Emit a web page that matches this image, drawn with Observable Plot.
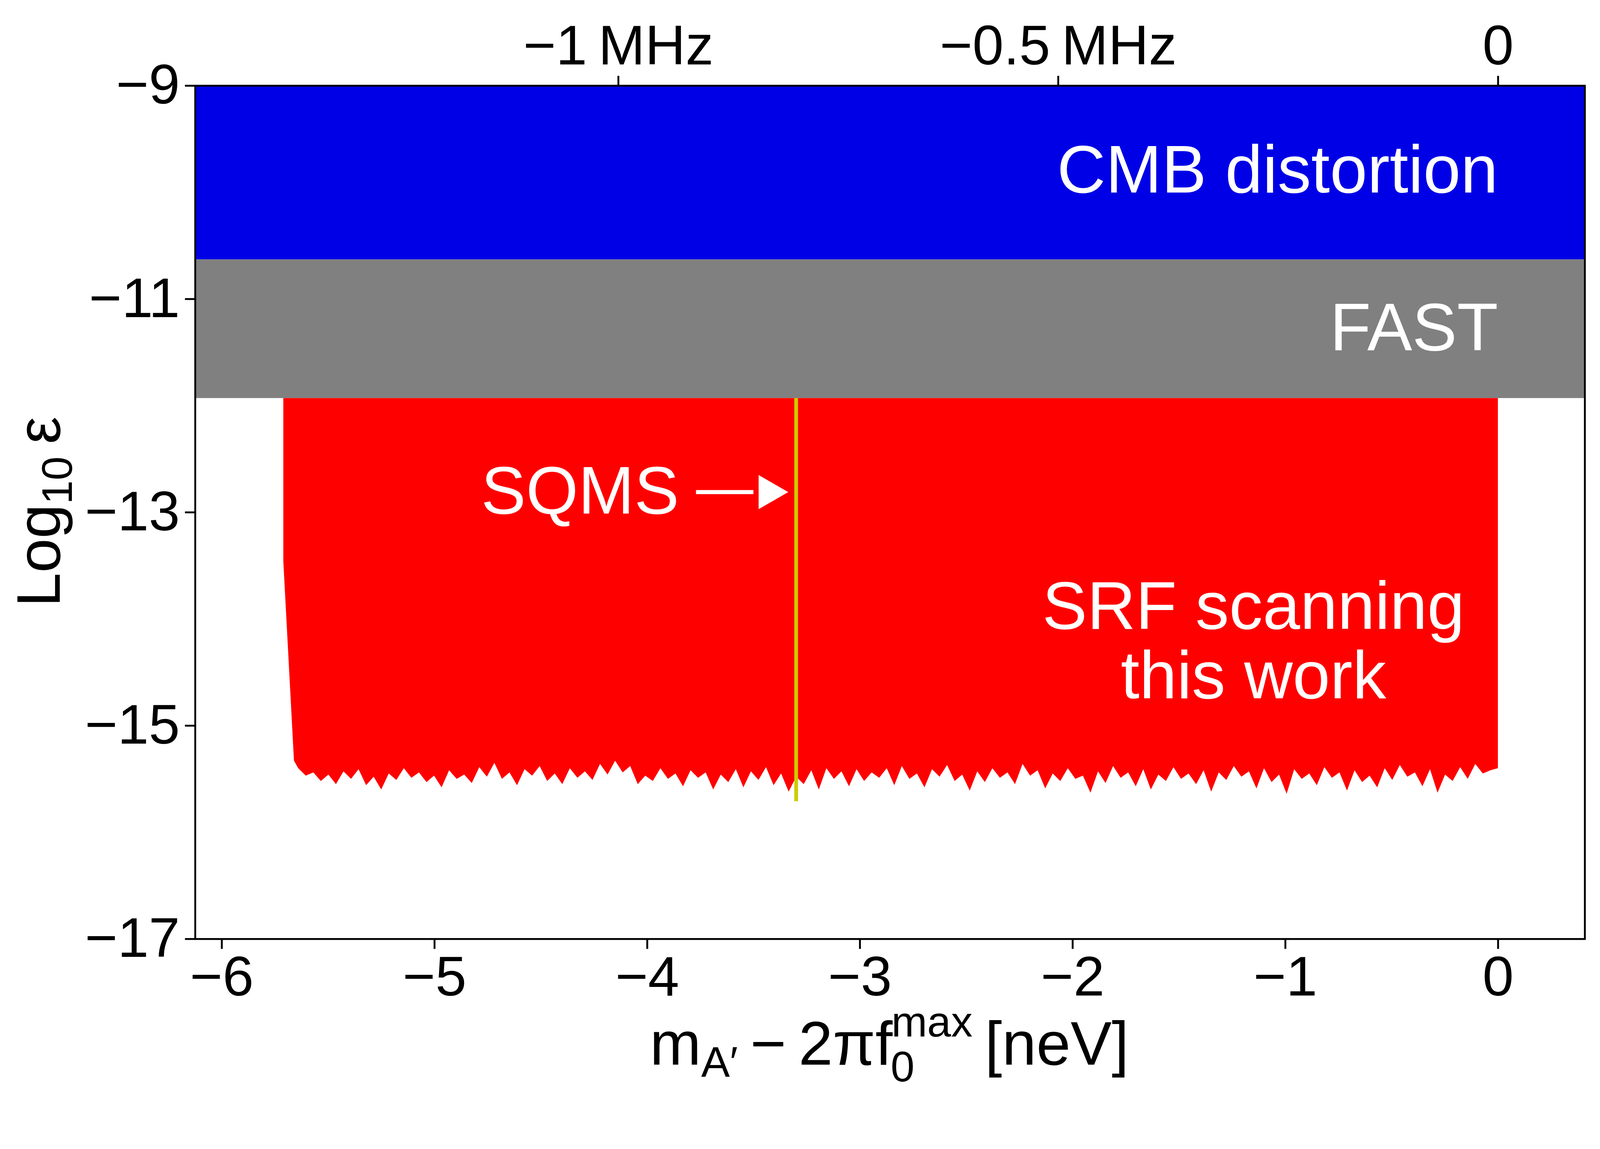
<!DOCTYPE html>
<html><head><meta charset="utf-8">
<script src="https://cdn.jsdelivr.net/npm/d3@7"></script>
<script src="https://cdn.jsdelivr.net/npm/@observablehq/plot@0.6"></script>
<style>body{margin:0;background:#fff}</style>
</head><body><div id="c"></div>
<script>
// bands (Log10 epsilon)
const cmb = {y1: -10.63, y2: -9};
const fast = {y1: -11.93, y2: -10.63};
// SRF scanning: edge start and noisy floor
const srfTop = -11.93;
const srfLeft = [[-5.71, -13.46], [-5.66, -15.33]];
const floorVals = [-15.40,-15.47,-15.44,-15.52,-15.46,-15.55,-15.43,-15.50,-15.41,-15.56,-15.48,-15.60,-15.45,-15.51,-15.40,-15.49,-15.44,-15.53,-15.47,-15.58,
-15.42,-15.50,-15.46,-15.54,-15.39,-15.48,-15.35,-15.50,-15.44,-15.56,-15.41,-15.47,-15.38,-15.52,-15.45,-15.55,-15.40,-15.49,-15.43,-15.51,
-15.36,-15.46,-15.33,-15.44,-15.38,-15.55,-15.47,-15.52,-15.40,-15.50,-15.45,-15.57,-15.42,-15.49,-15.44,-15.60,-15.46,-15.53,-15.41,-15.58,
-15.43,-15.51,-15.39,-15.56,-15.45,-15.62,-15.48,-15.55,-15.42,-15.60,-15.40,-15.50,-15.43,-15.57,-15.41,-15.52,-15.44,-15.49,-15.40,-15.56,
-15.38,-15.50,-15.45,-15.58,-15.41,-15.48,-15.37,-15.52,-15.46,-15.61,-15.43,-15.53,-15.40,-15.49,-15.44,-15.55,-15.36,-15.47,-15.42,-15.59,
-15.45,-15.52,-15.40,-15.50,-15.47,-15.63,-15.43,-15.54,-15.38,-15.49,-15.44,-15.57,-15.41,-15.60,-15.46,-15.52,-15.39,-15.50,-15.45,-15.55,
-15.42,-15.62,-15.44,-15.51,-15.38,-15.48,-15.43,-15.59,-15.40,-15.53,-15.46,-15.64,-15.41,-15.50,-15.45,-15.56,-15.39,-15.49,-15.44,-15.61,
-15.42,-15.53,-15.47,-15.58,-15.40,-15.51,-15.37,-15.48,-15.44,-15.57,-15.41,-15.63,-15.46,-15.52,-15.39,-15.50,-15.36,-15.45,-15.42,-15.40];
const floorX0 = -5.64, floorX1 = 0;
const sqms = {x: -3.30, y1: -15.71, y2: -11.93};
const xTicks = [-6,-5,-4,-3,-2,-1,0];
const yTicks = [-17,-15,-13,-11,-9];
const mhzTicks = [-1,-0.5,0];
const mhzLabels = ["\u22121\u2009MHz","\u22120.5\u2009MHz","0"];
const neVperMHz = 4.1357;

const n = floorVals.length;
const floorPts = floorVals.map((v,i)=>({x: floorX0 + (floorX1-floorX0)*i/(n-1), y: v}));
const srf = [...srfLeft.map(([x,y])=>({x,y})), ...floorPts];
const xDom = [-6.125, 0.408];
const F = "Liberation Sans, Arial, sans-serif";
const topTicks = mhzTicks.map(m=>m*neVperMHz);
const minus = d => d < 0 ? "\u2212" + (-d) : String(d);

const W = 4282, H = 2942;
const plot = Plot.plot({
  width: W, height: H,
  marginLeft: 522, marginRight: 41, marginTop: 229, marginBottom: 429,
  style: {fontFamily: F, background: "#fff"},
  x: {domain: xDom},
  y: {domain: [-17, -9]},
  marks: [
    Plot.rect([cmb], {x1: xDom[0], x2: xDom[1], y1: "y1", y2: "y2", fill: "#0000e6"}),
    Plot.rect([fast], {x1: xDom[0], x2: xDom[1], y1: "y1", y2: "y2", fill: "#808080"}),
    Plot.areaY(srf, {x: "x", y1: "y", y2: srfTop, fill: "#ff0000", curve: "linear"}),
    Plot.ruleX([sqms], {x: "x", y1: "y1", y2: "y2", stroke: "#cccc00", strokeWidth: 10}),
    Plot.text(["CMB distortion"], {x: 0, y: -9.8, text: d=>d, textAnchor: "end", fill: "white", fontSize: 180}),
    Plot.text(["FAST"], {x: 0, y: -11.28, text: d=>d, textAnchor: "end", fill: "white", fontSize: 180}),
    Plot.text(["SQMS"], {x: -3.85, y: -12.81, text: d=>d, textAnchor: "end", fill: "white", fontSize: 180}),
    Plot.ruleY([-12.81], {x1: -3.77, x2: -3.50, stroke: "white", strokeWidth: 11}),
    Plot.dot([{x: -3.43, y: -12.81}], {x: "x", y: "y", symbol: "triangle", rotate: 90, r: 34, fill: "white", stroke: null}),
    Plot.text(["SRF scanning"], {x: -1.15, y: -13.89, text: d=>d, fill: "white", fontSize: 180}),
    Plot.text(["this work"], {x: -1.15, y: -14.54, text: d=>d, fill: "white", fontSize: 180}),
    Plot.frame({stroke: "black", strokeWidth: 5}),
    Plot.axisX({ticks: xTicks, tickFormat: minus, tickSize: 27, tickPadding: 18, fontSize: 150, strokeWidth: 5, label: null}),
    Plot.axisX({anchor: "top", ticks: topTicks, tickFormat: (d,i)=>mhzLabels[i], tickSize: 27, tickPadding: 30, fontSize: 150, strokeWidth: 5, label: null}),
    Plot.axisY({ticks: yTicks, tickFormat: minus, tickSize: 27, tickPadding: 14, fontSize: 150, strokeWidth: 5, label: null})
  ]
});
document.getElementById("c").appendChild(plot);
const svg = d3.select(plot);
const xl = svg.append("text").attr("x", 2380).attr("y", 2850).attr("text-anchor", "middle")
  .attr("font-family", F).attr("font-size", 165).attr("fill", "black");
xl.append("tspan").text("m");
xl.append("tspan").attr("font-size", 115).attr("dy", 32).text("A\u2032");
xl.append("tspan").attr("dy", -32).text("\u2009\u2212\u20092\u03c0f");
xl.append("tspan").attr("font-size", 115).attr("dy", 45).attr("dx", -5).text("0");
xl.append("tspan").attr("font-size", 115).attr("dy", -120).attr("dx", -62).text("max");
xl.append("tspan").attr("dy", 75).text("\u2009[neV]");
const yl = svg.append("text").attr("transform", "translate(160,1370) rotate(-90)").attr("text-anchor", "middle")
  .attr("font-family", F).attr("font-size", 165).attr("fill", "black");
yl.append("tspan").text("Log");
yl.append("tspan").attr("font-size", 115).attr("dy", 32).text("10");
yl.append("tspan").attr("dy", -32).text("\u2009\u03b5");
</script></body></html>
